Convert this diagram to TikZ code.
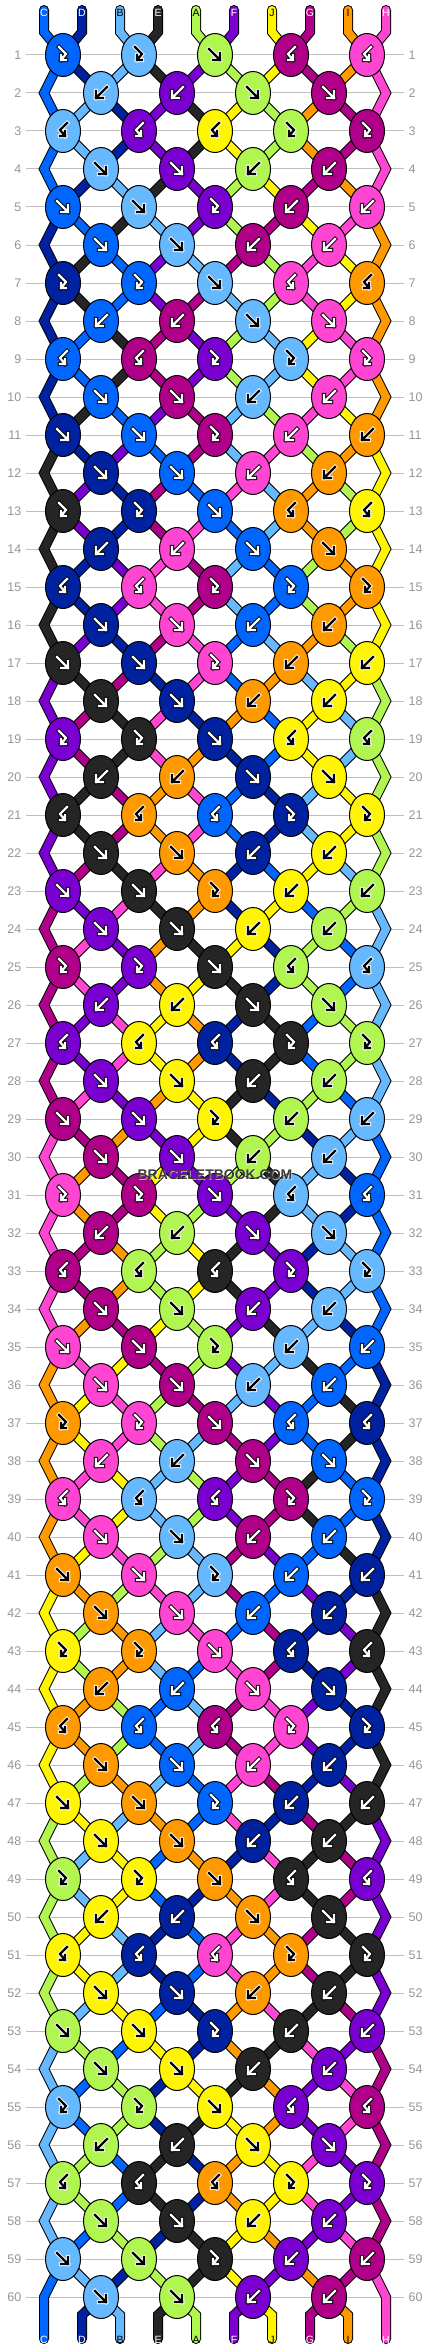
\documentclass[tikz,border=0pt]{standalone}
\usepackage{fontspec}
\setmainfont{Liberation Sans}
\usetikzlibrary{shapes.geometric}
\pgfdeclarelayer{grid}
\pgfdeclarelayer{outl}
\pgfdeclarelayer{fil}
\pgfsetlayers{grid,outl,fil,main}
\definecolor{cC}{RGB}{0,102,255}
\definecolor{cD}{RGB}{0,34,160}
\definecolor{cB}{RGB}{102,184,255}
\definecolor{cE}{RGB}{37,37,37}
\definecolor{cA}{RGB}{176,245,80}
\definecolor{cF}{RGB}{122,0,210}
\definecolor{cJ}{RGB}{255,245,0}
\definecolor{cG}{RGB}{176,0,138}
\definecolor{cI}{RGB}{255,153,0}
\definecolor{cH}{RGB}{255,70,210}
\definecolor{numgray}{RGB}{150,150,150}
\definecolor{linegray}{RGB}{190,190,190}
\definecolor{wmgray}{RGB}{60,60,60}
\def\glA{black}\def\goA{white}
\def\glB{black}\def\goB{white}
\def\glJ{black}\def\goJ{white}
\def\glI{black}\def\goI{white}
\def\glC{white}\def\goC{black}
\def\glD{white}\def\goD{black}
\def\glE{white}\def\goE{black}
\def\glF{white}\def\goF{black}
\def\glG{white}\def\goG{black}
\def\glH{white}\def\goH{black}
\newcount\passno
\newcommand\strAt[1]{\csname str#1\endcsname}
\newcommand\setstr[2]{\expandafter\xdef\csname str#1\endcsname{#2}}
\newcommand\resetstr{\setstr{1}{C}\setstr{2}{D}\setstr{3}{B}\setstr{4}{E}\setstr{5}{A}%
 \setstr{6}{F}\setstr{7}{J}\setstr{8}{G}\setstr{9}{I}\setstr{10}{H}}
\newcommand\seg[3][]{%
 \ifcase\passno\or\draw[line width=10pt,color=black,#1] #3;%
 \or\draw[line width=8pt,color=c#2,#1] #3;\fi}
\newcommand\gpath[2]{%
 \if#1f\draw[#2] (-6,-6)--(5,5) (5,-2)--(5,5)--(-2,5);\fi
 \if#1b\draw[#2] (6,-6)--(-5,5) (-5,-2)--(-5,5)--(2,5);\fi
 \if#1F\draw[#2] (-4,-8)--(3,-1)--(-2,5) (-2,0)--(-2,5)--(3,5);\fi
 \if#1B\draw[#2] (4,-8)--(-3,-1)--(2,5) (2,0)--(2,5)--(-3,5);\fi}
\newcommand\glyph[4]{%
 \edef\gcol{\csname gl#4\endcsname}\edef\ocol{\csname go#4\endcsname}%
 \begin{scope}[shift={(#2,#3)}]
  \gpath{#1}{color=\ocol,line width=4.2pt,line cap=rect}
  \gpath{#1}{color=\gcol,line width=2.2pt,line cap=rect}
 \end{scope}}
\newcommand\knotrow[2]{%
 \foreach \kc [count=\k] in {#2}{%
  \ifodd#1\relax\edef\p{\the\numexpr2*\k-1\relax}\else\edef\p{\the\numexpr2*\k\relax}\fi
  \edef\q{\the\numexpr\p+1\relax}%
  \edef\rp{\the\numexpr#1-1\relax}%
  \edef\rpp{\the\numexpr#1-2\relax}%
  \edef\pmo{\the\numexpr\p-1\relax}%
  \edef\L{\strAt{\p}}\edef\R{\strAt{\q}}%
  \if\kc f\edef\K{\L}\setstr{\p}{\R}\setstr{\q}{\L}\fi
  \if\kc b\edef\K{\R}\setstr{\p}{\R}\setstr{\q}{\L}\fi
  \if\kc F\edef\K{\L}\fi
  \if\kc B\edef\K{\R}\fi
  \ifnum\passno=0
   \pgfmathsetmacro\X{63+38*(\p-1)}\pgfmathsetmacro\Y{55+38*(#1-1)}%
   \node[kn,fill=c\K] (k-#1-\p) at (\X,\Y) {};
   \glyph{\kc}{\X}{\Y}{\K}%
  \else
   \ifnum#1=1 \seg[line cap=round]{\L}{(t-\p)--(tb-\p)--(k-1-\p.center)}%
   \else\ifnum\p=1 \seg{\L}{(k-\rpp-1.center)--(eL-\rp)--(k-#1-1.center)}%
   \else \seg{\L}{(k-\rp-\pmo.center)--(k-#1-\p.center)}\fi\fi
   \ifnum#1=1 \seg[line cap=round]{\R}{(t-\q)--(tb-\q)--(k-1-\p.center)}%
   \else\ifnum\q=10 \seg{\R}{(k-\rpp-9.center)--(eR-\rp)--(k-#1-9.center)}%
   \else \seg{\R}{(k-\rp-\q.center)--(k-#1-\p.center)}\fi\fi
  \fi
 }}
\newcommand\allrows{%
\resetstr
\knotrow{1}{F,F,f,B,B}
\knotrow{2}{b,b,f,f}
\knotrow{3}{B,B,B,F,F}
\knotrow{4}{f,f,b,b}
\knotrow{5}{f,f,F,b,b}
\knotrow{6}{f,f,b,b}
\knotrow{7}{F,F,f,B,B}
\knotrow{8}{b,b,f,f}
\knotrow{9}{B,B,F,F,F}
\knotrow{10}{f,f,b,b}
\knotrow{11}{f,f,F,b,b}
\knotrow{12}{f,f,b,b}
\knotrow{13}{F,F,f,B,B}
\knotrow{14}{b,b,f,f}
\knotrow{15}{B,B,F,F,F}
\knotrow{16}{f,f,b,b}
\knotrow{17}{f,f,F,b,b}
\knotrow{18}{f,f,b,b}
\knotrow{19}{F,F,f,B,B}
\knotrow{20}{b,b,f,f}
\knotrow{21}{B,B,B,F,F}
\knotrow{22}{f,f,b,b}
\knotrow{23}{f,f,F,b,b}
\knotrow{24}{f,f,b,b}
\knotrow{25}{F,F,f,B,B}
\knotrow{26}{b,b,f,f}
\knotrow{27}{B,B,B,F,F}
\knotrow{28}{f,f,b,b}
\knotrow{29}{f,f,F,b,b}
\knotrow{30}{f,f,b,b}
\knotrow{31}{F,F,f,B,B}
\knotrow{32}{b,b,f,f}
\knotrow{33}{B,B,B,F,F}
\knotrow{34}{f,f,b,b}
\knotrow{35}{f,f,F,b,b}
\knotrow{36}{f,f,b,b}
\knotrow{37}{F,F,f,B,B}
\knotrow{38}{b,b,f,f}
\knotrow{39}{B,B,B,F,F}
\knotrow{40}{f,f,b,b}
\knotrow{41}{f,f,F,b,b}
\knotrow{42}{f,f,b,b}
\knotrow{43}{F,F,f,B,B}
\knotrow{44}{b,b,f,f}
\knotrow{45}{B,B,B,F,F}
\knotrow{46}{f,f,b,b}
\knotrow{47}{f,f,F,b,b}
\knotrow{48}{f,f,b,b}
\knotrow{49}{F,F,f,B,B}
\knotrow{50}{b,b,f,f}
\knotrow{51}{B,B,B,F,F}
\knotrow{52}{f,f,b,b}
\knotrow{53}{f,f,F,b,b}
\knotrow{54}{f,f,b,b}
\knotrow{55}{F,F,f,B,B}
\knotrow{56}{b,b,f,f}
\knotrow{57}{B,B,B,F,F}
\knotrow{58}{f,f,b,b}
\knotrow{59}{f,f,F,b,b}
\knotrow{60}{f,f,b,b}
\ifnum\passno>0
 \edef\tmp{\strAt{1}}\seg[line cap=round]{\tmp}{(k-59-1.center)--(eL-60)--(b-1)}%
 \edef\tmp{\strAt{10}}\seg[line cap=round]{\tmp}{(k-59-9.center)--(eR-60)--(b-10)}%
 \foreach \i in {2,...,9}{%
   \ifodd\i\relax\edef\j{\the\numexpr\i-1\relax}\else\edef\j{\i}\fi
   \edef\tmp{\strAt{\i}}%
   \seg[line cap=round]{\tmp}{(k-60-\j.center)--(bb-\i)--(b-\i)}%
 }%
\fi}
\begin{document}
\begin{tikzpicture}[x=1pt,y=-1pt,
  kn/.style={ellipse,draw=black,line width=1pt,minimum width=35pt,minimum height=43pt,inner sep=0pt},
  rowline/.style={draw=linegray,line width=1pt},
  numL/.style={anchor=east,text=numgray,font=\fontsize{12.5}{12.5}\selectfont,inner sep=0pt},
  numR/.style={anchor=west,text=numgray,font=\fontsize{12.5}{12.5}\selectfont,inner sep=0pt},
  lab/.style={font=\fontsize{10.5}{10.5}\selectfont,inner sep=0pt}]
\useasboundingbox (0,0) rectangle (430,2352);
\begin{pgfonlayer}{grid}
\fill[white] (0,0) rectangle (430,2352);
\foreach \r in {1,...,60}{%
  \pgfmathsetmacro\Y{55+38*(\r-1)}
  \draw[rowline] (26,\Y)--(404,\Y);
}
\end{pgfonlayer}
\foreach \r in {1,...,60}{%
  \pgfmathsetmacro\Y{55+38*(\r-1)}
  \node[numL] (nl-\r) at (21.5,\Y) {\r};
  \node[numR] (nr-\r) at (408.5,\Y) {\r};
}
\foreach \r in {2,4,...,60}{%
  \pgfmathsetmacro\Y{55+38*(\r-1)}
  \coordinate (eL-\r) at (44,\Y);
  \coordinate (eR-\r) at (386,\Y);
}
\foreach \i in {1,...,10}{%
  \pgfmathsetmacro\Xs{44+38*(\i-1)}
  \coordinate (t-\i) at (\Xs,10);
  \coordinate (tb-\i) at (\Xs,32);
  \coordinate (bb-\i) at (\Xs,2315);
  \coordinate (b-\i) at (\Xs,2339);
}
\global\passno=0
\allrows
\begin{pgfonlayer}{outl}
\global\passno=1
\allrows
\end{pgfonlayer}
\begin{pgfonlayer}{fil}
\global\passno=2
\allrows
\end{pgfonlayer}
\global\passno=0
\foreach \lt/\tc [count=\i] in {C/white,D/white,B/black,E/white,A/black,F/white,J/black,G/white,I/black,H/white}{%
  \pgfmathsetmacro\Xs{44+38*(\i-1)}
  \node[lab,text=\tc] (tl-\i) at (\Xs,12.5) {\lt};
  \node[lab,text=\tc] (bl-\i) at (\Xs,2339.5) {\lt};
}
\node[font=\bfseries\fontsize{14}{14}\selectfont,text=white,opacity=0.6,inner sep=0pt] (wmh) at (215.8,1175.8) {BRACELETBOOK.COM};
\node[font=\bfseries\fontsize{14}{14}\selectfont,text=wmgray,inner sep=0pt] (wm) at (215,1175) {BRACELETBOOK.COM};
\end{tikzpicture}
\end{document}
